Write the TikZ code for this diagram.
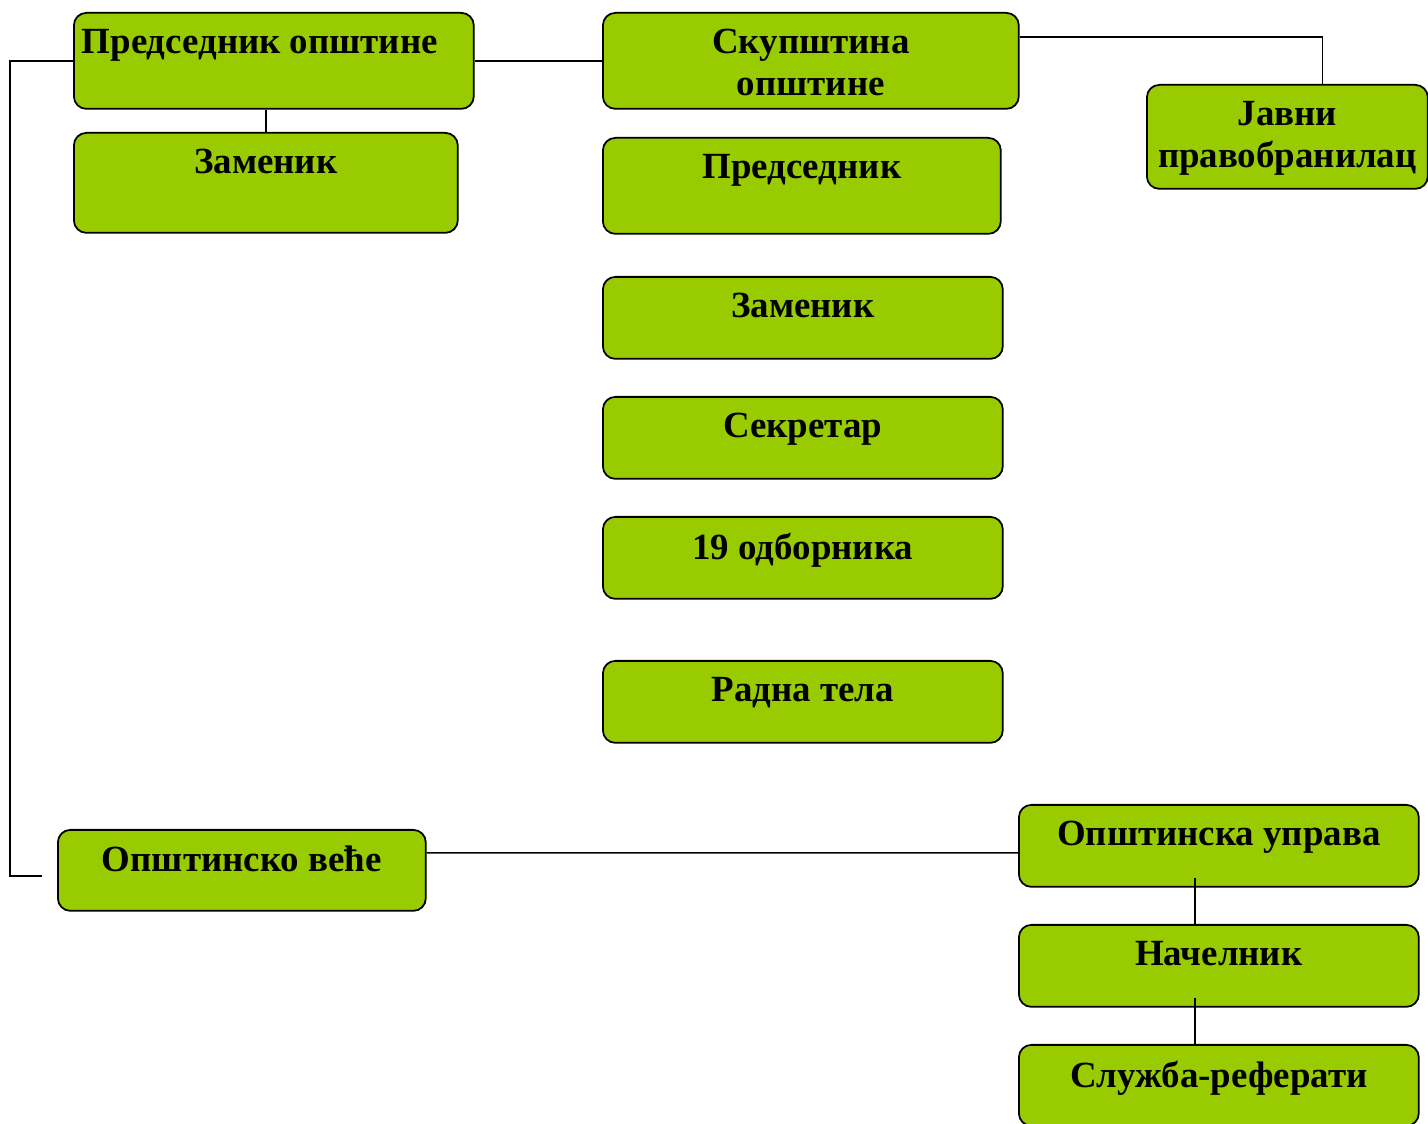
\documentclass[tikz,border=0pt]{standalone}
\usepackage{fontspec}
\setmainfont{Liberation Serif}
\definecolor{boxgreen}{HTML}{99CC00}
\tikzset{
  unit/.style={draw, line width=1pt, fill=boxgreen, rounded corners=0.25cm,
    anchor=north west, inner sep=0pt},
  caption/.style={anchor=north, inner sep=0pt, align=center, yshift=-0.34cm,
    font=\bfseries\fontsize{21}{24}\selectfont},
  link/.style={line width=0.9pt}
}
\begin{document}
\begin{tikzpicture}[x=0.02cm, y=-0.02cm]
\useasboundingbox (0,0) rectangle (1428,1124);
% mayor and deputy
\node[unit, minimum width=8cm, minimum height=1.92cm,
  label={[caption, xshift=-0.28cm]north:Председник општине}] (pred) at (73,12) {};
\node[unit, minimum width=7.68cm, minimum height=2cm,
  label={[caption]north:Заменик}] (predZam) at (73,132) {};
% assembly
\node[unit, minimum width=8.32cm, minimum height=1.92cm,
  label={[caption]north:Скупштина\\општине}] (skup) at (602,12) {};
\node[unit, minimum width=7.96cm, minimum height=1.92cm,
  label={[caption]north:Председник}] (skPred) at (602,137) {};
\node[unit, minimum width=8cm, minimum height=1.64cm,
  label={[caption]north:Заменик}] (skZam) at (602,276) {};
\node[unit, minimum width=8cm, minimum height=1.64cm,
  label={[caption]north:Секретар}] (sekr) at (602,396) {};
\node[unit, minimum width=8cm, minimum height=1.64cm,
  label={[caption]north:19 одборника}] (odb) at (602,516) {};
\node[unit, minimum width=8cm, minimum height=1.64cm,
  label={[caption]north:Радна тела}] (radna) at (602,660) {};
\node[unit, minimum width=5.62cm, minimum height=2.08cm,
  label={[caption]north:Јавни\\правобранилац}] (javni) at (1146,84) {};
% council and administration
\node[unit, minimum width=7.36cm, minimum height=1.62cm,
  label={[caption]north:Општинско веће}] (vece) at (57,829) {};
\node[unit, minimum width=8cm, minimum height=1.64cm,
  label={[caption]north:Општинска управа}] (uprava) at (1018,804) {};
\node[unit, minimum width=8cm, minimum height=1.64cm,
  label={[caption]north:Начелник}] (nacel) at (1018,924) {};
\node[unit, minimum width=8cm, minimum height=1.62cm,
  label={[caption]north:Служба-реферати}] (sluzba) at (1018,1044) {};
% links
\coordinate (corner) at (10,876);
\coordinate (veceIn) at (42,876);
\draw[link] (pred.west) -| (corner) -- (veceIn);
\draw[link] (pred.east) -- (skup.west);
\draw[link] (predZam.north) -- (predZam.north |- pred.south);
\draw[link] ([yshift=0.48cm]skup.east) -| ([xshift=0.7cm]javni.north);
\draw[link] ([yshift=0.35cm]vece.east) -- ([yshift=-0.14cm]uprava.west);
\draw[link] ([xshift=-0.48cm,yshift=0.2cm]uprava.south) -- ([xshift=-0.48cm]nacel.north);
\draw[link] ([xshift=-0.48cm,yshift=0.2cm]nacel.south) -- ([xshift=-0.48cm]sluzba.north);
\end{tikzpicture}
\end{document}
